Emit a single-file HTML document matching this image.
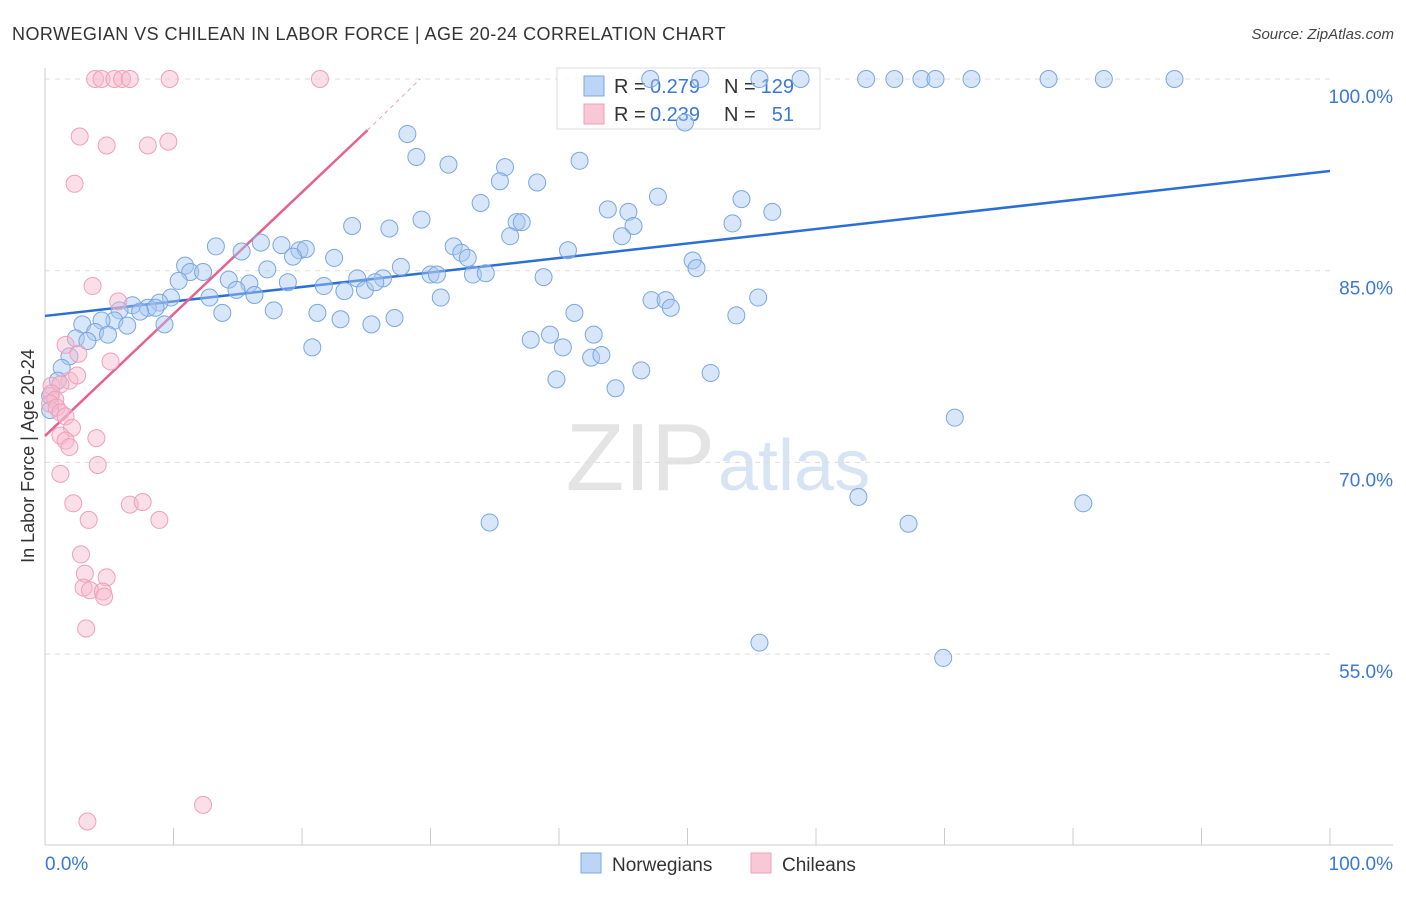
<!DOCTYPE html>
<html><head><meta charset="utf-8"><style>
body{margin:0;background:#fff;font-family:"Liberation Sans",sans-serif}
svg text{font-family:"Liberation Sans",sans-serif}
</style></head><body>
<svg id="chart" width="1406" height="892" xmlns="http://www.w3.org/2000/svg">
<text x="12" y="40" font-size="18" fill="#333" letter-spacing="0.45">NORWEGIAN VS CHILEAN IN LABOR FORCE | AGE 20-24 CORRELATION CHART</text>
<text x="1394" y="39" font-size="15" fill="#444" text-anchor="end" font-style="italic">Source: ZipAtlas.com</text>
<text x="715" y="490" font-size="96" fill="#e4e4e4" text-anchor="end" font-family="Liberation Serif">ZIP</text>
<text x="718" y="490" font-size="72" fill="#d6e4f4">atlas</text>
<g id="grid"></g>
<g id="axes"></g>
<text transform="translate(34,456) rotate(-90)" font-size="18" fill="#333" text-anchor="middle">In Labor Force | Age 20-24</text>
<g id="lines"></g>
<rect x="557" y="68" width="263" height="61" fill="#fff" fill-opacity="0.85" stroke="#ddd"/>
<rect x="584" y="76" width="20" height="20" fill="#bcd4f6" stroke="#7aa7e0"/>
<rect x="584" y="104" width="20" height="20" fill="#f8c8d6" stroke="#eea0b8"/>
<text x="614" y="93" font-size="20" fill="#333">R =</text>
<text x="650" y="93" font-size="20" fill="#3a78d8">0.279</text>
<text x="724" y="93" font-size="20" fill="#333">N =</text>
<text x="794" y="93" font-size="20" fill="#3a78d8" text-anchor="end">129</text>
<text x="614" y="121" font-size="20" fill="#333">R =</text>
<text x="650" y="121" font-size="20" fill="#3a78d8">0.239</text>
<text x="724" y="121" font-size="20" fill="#333">N =</text>
<text x="794" y="121" font-size="20" fill="#3a78d8" text-anchor="end">51</text>
<g id="points"></g>
<rect x="581" y="853" width="20" height="20" fill="#bcd4f6" stroke="#7aa7e0"/>
<text x="612" y="871" font-size="19" fill="#333">Norwegians</text>
<rect x="751" y="853" width="20" height="20" fill="#f8c8d6" stroke="#eea0b8"/>
<text x="782" y="871" font-size="19" fill="#333">Chileans</text>
</svg>
<script>
const yTicks=[100,85,70,55];
const yTickLabels=["100.0%","85.0%","70.0%","55.0%"];
const xTicks=[0,10,20,30,40,50,60,70,80,90,100];
const blueX=[47.1,51.0,55.6,58.8,63.9,66.1,68.2,69.3,72.1,78.1,82.4,87.9,49.8,28.2,28.9,31.4,41.6,35.8,35.4,38.3,33.9,47.7,54.2,43.8,45.4,56.6,29.3,23.9,26.8,36.7,37.1,45.8,53.5,36.2,44.9,13.3,15.3,16.8,18.4,19.8,20.3,19.3,31.8,32.4,32.9,40.7,10.9,11.3,12.3,17.3,22.5,27.7,30.0,30.5,33.3,34.3,38.8,50.4,50.7,10.4,14.3,15.9,18.9,21.7,24.3,24.9,26.3,25.7,14.9,16.3,23.3,12.8,9.8,8.9,6.8,8.0,8.6,7.4,5.8,13.8,17.8,21.2,23.0,25.4,27.2,30.8,41.2,47.2,48.3,48.7,55.5,53.8,5.4,4.4,2.9,9.3,6.4,3.9,4.9,2.4,3.3,20.8,37.8,39.3,40.3,42.7,42.5,43.3,1.9,1.3,1.0,0.4,0.4,39.8,44.4,46.4,51.8,70.8,63.3,34.6,67.2,80.8,55.6,69.9];
const blueY=[100,100,100,100,100,100,100,100,100,100,100,100,96.6,95.7,93.9,93.3,93.6,93.1,92.0,91.9,90.3,90.8,90.6,89.8,89.6,89.6,89.0,88.5,88.3,88.8,88.8,88.5,88.7,87.7,87.7,86.9,86.5,87.2,87.0,86.6,86.7,86.1,86.9,86.4,86.0,86.6,85.4,84.9,84.9,85.1,86.0,85.3,84.7,84.7,84.7,84.8,84.5,85.8,85.2,84.2,84.3,84.0,84.1,83.8,84.4,83.5,84.4,84.1,83.5,83.1,83.4,82.9,82.9,82.5,82.3,82.1,82.1,81.8,81.9,81.7,81.9,81.7,81.2,80.8,81.3,82.9,81.7,82.7,82.7,82.1,82.9,81.5,81.1,81.1,80.8,80.8,80.7,80.2,80.0,79.7,79.5,79.0,79.6,80.0,79.0,80.0,78.2,78.4,78.3,77.4,76.4,75.2,74.1,76.5,75.8,77.2,77.0,73.5,67.3,65.3,65.2,66.8,55.9,54.7];
const pinkX=[3.9,4.4,5.4,6.0,6.6,9.7,21.4,2.7,4.8,8.0,9.6,2.3,3.7,5.7,1.6,2.6,5.1,1.9,2.5,0.5,1.2,0.5,0.8,0.4,0.9,1.2,1.6,2.1,1.2,1.6,1.9,4.0,4.1,1.2,2.2,3.4,6.6,7.6,8.9,2.8,3.1,4.8,3.0,3.5,4.5,4.6,3.2,12.3,3.3];
const pinkY=[100,100,100,100,100,100,100,95.5,94.8,94.8,95.1,91.8,83.8,82.6,79.2,78.5,77.9,76.4,76.8,76.0,76.1,75.4,74.9,74.6,74.3,73.9,73.6,72.7,72.1,71.7,71.2,71.9,69.8,69.1,66.8,65.5,66.7,66.9,65.5,62.8,61.3,61.0,60.2,60.0,59.9,59.5,57.0,43.2,41.9];
const blueTrend=[[0,81.46],[100,92.8]];
const pinkTrend=[[0,72.07],[25.1,96.0]];
const pinkDash=[[25.1,96.0],[29.2,100]];

const NS="http://www.w3.org/2000/svg";
const X=v=>45+v*12.85;
const Y=v=>79+(100-v)*12.78;
function mk(tag,attrs,parent){const e=document.createElementNS(NS,tag);for(const k in attrs)e.setAttribute(k,attrs[k]);document.getElementById(parent).appendChild(e);return e;}

yTicks.forEach((t,i)=>{
  const l=mk('line',{x1:45,x2:1330,y1:Y(t),y2:Y(t),stroke:'#ddd','stroke-dasharray':'5,5'},'grid');
  
  
  const tx=mk('text',{x:1393,y:Y(t)+24,'font-size':19,fill:'#3a78d8','text-anchor':'end'},'grid');
  tx.textContent=yTickLabels[i];
  
  
});
const ax=mk('line',{x1:45,x2:45,y1:68,y2:845,stroke:'#ccc'},'axes');


const bx=mk('line',{x1:45,x2:1393,y1:845,y2:845,stroke:'#ccc'},'axes');


xTicks.forEach(t=>{
  const l=mk('line',{x1:X(t),x2:X(t),y1:828,y2:845,stroke:'#ccc'},'axes');
  
  
});
const x0=mk('text',{x:45,y:870,'font-size':19,fill:'#3a78d8'},'axes');x0.textContent='0.0%';


const x1=mk('text',{x:1393,y:870,'font-size':19,fill:'#3a78d8','text-anchor':'end'},'axes');x1.textContent='100.0%';



function pts(xs,ys,fill,stroke,name){
  xs.forEach((v,i)=>{
    const c=mk('circle',{cx:X(v),cy:Y(ys[i]),r:8.5,fill:fill,'fill-opacity':0.45,stroke:stroke,'stroke-width':1},'points');
    
    
  });
}
pts(blueX,blueY,'#a9c7f2','#7aa7e0','norwegian-point');
pts(pinkX,pinkY,'#f6b8cc','#eea0b8','chilean-point');

const bl=mk('line',{x1:X(blueTrend[0][0]),y1:Y(blueTrend[0][1]),x2:X(blueTrend[1][0]),y2:Y(blueTrend[1][1]),stroke:'#2a6fd6','stroke-width':2.5},'lines');


const pl=mk('line',{x1:X(pinkTrend[0][0]),y1:Y(pinkTrend[0][1]),x2:X(pinkTrend[1][0]),y2:Y(pinkTrend[1][1]),stroke:'#e8608e','stroke-width':2.5},'lines');


const pd=mk('line',{x1:X(pinkDash[0][0]),y1:Y(pinkDash[0][1]),x2:X(pinkDash[1][0]),y2:Y(pinkDash[1][1]),stroke:'#e8a0b8','stroke-width':1,'stroke-dasharray':'4,4'},'lines');


</script>
</body></html>
